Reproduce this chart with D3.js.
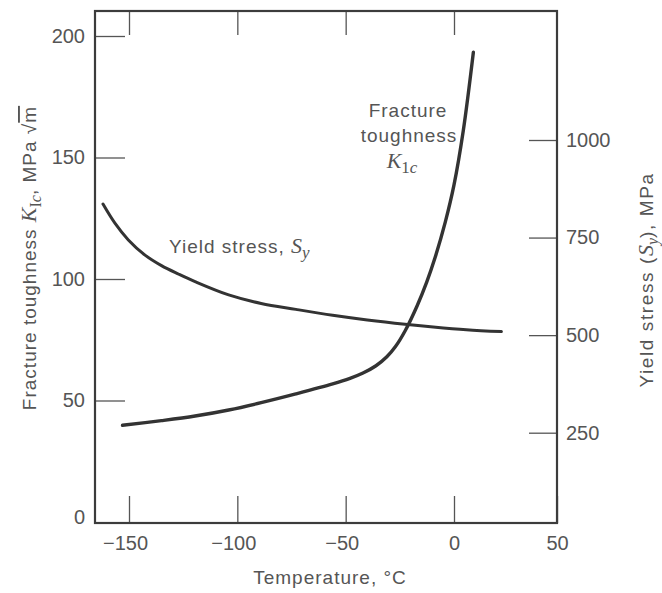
<!DOCTYPE html>
<html>
<head>
<meta charset="utf-8">
<script src="https://cdn.jsdelivr.net/npm/d3@7/dist/d3.min.js"></script>
<style>
  body { margin: 0; background: #fff; }
  svg { display: block; }
  .axis text { font-family: "Liberation Sans", Arial, sans-serif; font-size: 20px; fill: #555; }
  .axis line { stroke: #555; stroke-width: 1.3px; }
  .lbl { font-family: "Liberation Sans", Arial, sans-serif; font-size: 19px; fill: #555; letter-spacing: 1px; }
  .sym { font-family: "Liberation Serif", serif; font-style: italic; letter-spacing: 0; }
</style>
</head>
<body>
<svg id="chart" width="662" height="593"></svg>
<script>
// values
var tempTicks = [-150, -100, -50, 0, 50],
  kTicks = [50, 100, 150, 200],
  syTicks = [250, 500, 750, 1000];

// fracture toughness K1c (MPa sqrt m) against temperature (C)
var fractureTemp = [-153, -135, -119.5, -104, -89, -73, -56, -48, -42, -36, -31, -27, -22.6, -17, -12.6, -8.8, -4, 0, 4.5, 9.4],
  fractureK = [39.8, 41.7, 43.6, 46.1, 49.1, 52.7, 56.8, 59.1, 61.3, 64.3, 68, 72.2, 78.6, 89, 98.7, 108.6, 123.5, 138.7, 161, 193.3];

// yield stress Sy (MPa) against temperature (C)
var yieldTemp = [-162, -156.5, -150.3, -142.6, -135, -127, -119.5, -104, -89, -73, -56, -40, -22.6, -9.6, 6, 23],
  yieldSy = [836, 787, 744, 705, 678, 656, 637, 603, 581, 566, 551, 539, 528, 521, 514, 509];

var svg = d3.select("#chart"),
  frameLeft = 95, frameRight = 557, frameTop = 11, frameBottom = 523;

// the printed axis is a little uneven, so keep it piecewise
var x = d3.scaleLinear().domain([-150, 0, 50]).range([129, 454, 557]),
  yK = d3.scaleLinear().domain([0, 200]).range([522, 36]),
  yS = d3.scaleLinear().domain([250, 1000]).range([432.7, 140]);

var fmt = d3.format("d");

// axes, ticks pointing inward
svg.append("g")
  .attr("class", "axis")
  .attr("transform", "translate(" + frameLeft + ",0)")
  .call(d3.axisLeft(yK).tickValues(kTicks).tickSizeInner(-30).tickSizeOuter(0)
    .tickPadding(10).tickFormat(fmt))
  .call(function (g) { g.select(".domain").remove(); });

svg.append("g")
  .attr("class", "axis")
  .attr("transform", "translate(" + frameRight + ",0)")
  .call(d3.axisRight(yS).tickValues(syTicks).tickSizeInner(-28).tickSizeOuter(0)
    .tickPadding(9).tickFormat(fmt))
  .call(function (g) { g.select(".domain").remove(); });

svg.append("g")
  .attr("class", "axis")
  .attr("transform", "translate(0," + frameBottom + ")")
  .call(d3.axisBottom(x).tickValues(tempTicks).tickSizeInner(-27).tickSizeOuter(0)
    .tickPadding(13).tickFormat(fmt))
  .call(function (g) {
    g.select(".domain").remove();
    g.selectAll("text").attr("dx", function (d) { return d < 0 ? "-0.2em" : 0; });
  });

svg.append("g")
  .attr("class", "axis")
  .attr("transform", "translate(0," + frameTop + ")")
  .call(d3.axisTop(x).tickValues(tempTicks.slice(0, 4)).tickSizeInner(-24).tickSizeOuter(0)
    .tickFormat(""))
  .call(function (g) { g.select(".domain").remove(); });

// the "0" at the bottom left corner
svg.append("text")
  .attr("x", frameLeft - 10)
  .attr("y", yK(0))
  .attr("dy", "0.1em")
  .attr("text-anchor", "end")
  .style("font-family", "Liberation Sans, Arial, sans-serif")
  .style("font-size", "20px")
  .style("fill", "#555")
  .text(fmt(0));

// frame
svg.append("rect")
  .attr("x", frameLeft)
  .attr("y", frameTop)
  .attr("width", frameRight - frameLeft)
  .attr("height", frameBottom - frameTop)
  .attr("fill", "none")
  .attr("stroke", "#3c3c3c")
  .attr("stroke-width", 2.2);

// curves
var kLine = d3.line()
  .x(function (d) { return x(d[0]); })
  .y(function (d) { return yK(d[1]); })
  .curve(d3.curveCatmullRom.alpha(0.5));

var sLine = d3.line()
  .x(function (d) { return x(d[0]); })
  .y(function (d) { return yS(d[1]); })
  .curve(d3.curveCatmullRom.alpha(0.5));

svg.append("path")
  .datum(d3.zip(fractureTemp, fractureK))
  .attr("d", kLine)
  .attr("fill", "none")
  .attr("stroke", "#333")
  .attr("stroke-width", 3.4)
  .attr("stroke-linecap", "round");

svg.append("path")
  .datum(d3.zip(yieldTemp, yieldSy))
  .attr("d", sLine)
  .attr("fill", "none")
  .attr("stroke", "#333")
  .attr("stroke-width", 3)
  .attr("stroke-linecap", "round");

// curve labels
var ys = svg.append("text").attr("class", "lbl").attr("x", 169).attr("y", 253);
ys.append("tspan").text("Yield stress, ");
ys.append("tspan").attr("class", "sym").style("font-size", "22px").text("S");
ys.append("tspan").attr("class", "sym").attr("dy", 5).style("font-size", "17px").text("y");

svg.append("text").attr("class", "lbl").attr("x", 408).attr("y", 117)
  .attr("text-anchor", "middle").text("Fracture");
svg.append("text").attr("class", "lbl").attr("x", 409).attr("y", 142)
  .attr("text-anchor", "middle").text("toughness");
var kc = svg.append("text").attr("class", "lbl").attr("x", 402).attr("y", 168)
  .attr("text-anchor", "middle");
kc.append("tspan").attr("class", "sym").style("font-size", "22px").text("K");
kc.append("tspan").attr("class", "sym").attr("dy", 5).style("font-size", "17px")
  .style("font-style", "normal").text("1");
kc.append("tspan").attr("class", "sym").style("font-size", "17px").text("c");

// axis titles
svg.append("text").attr("class", "lbl")
  .attr("x", 330).attr("y", 584)
  .attr("text-anchor", "middle")
  .style("font-size", "19px")
  .text("Temperature, \u00b0C");

var lt = svg.append("text").attr("class", "lbl")
  .attr("transform", "translate(36,258) rotate(-90)")
  .attr("text-anchor", "middle");
lt.append("tspan").text("Fracture toughness ");
lt.append("tspan").attr("class", "sym").style("font-size", "22px").text("K");
lt.append("tspan").attr("class", "sym").attr("dy", 5).style("font-size", "16px")
  .style("font-style", "normal").text("I");
lt.append("tspan").attr("class", "sym").style("font-size", "16px").text("c");
lt.append("tspan").attr("dy", -5).text(",  MPa ");
lt.append("tspan").text("\u221a");
lt.append("tspan").style("text-decoration", "overline").text("m");

var rt = svg.append("text").attr("class", "lbl")
  .attr("transform", "translate(653,280) rotate(-90)")
  .attr("text-anchor", "middle")
  .style("letter-spacing", "1.6px");
rt.append("tspan").text("Yield stress (");
rt.append("tspan").attr("class", "sym").style("font-size", "22px").text("S");
rt.append("tspan").attr("class", "sym").attr("dy", 5).style("font-size", "16px").text("y");
rt.append("tspan").attr("dy", -5).text("),  MPa");
</script>
</body>
</html>
